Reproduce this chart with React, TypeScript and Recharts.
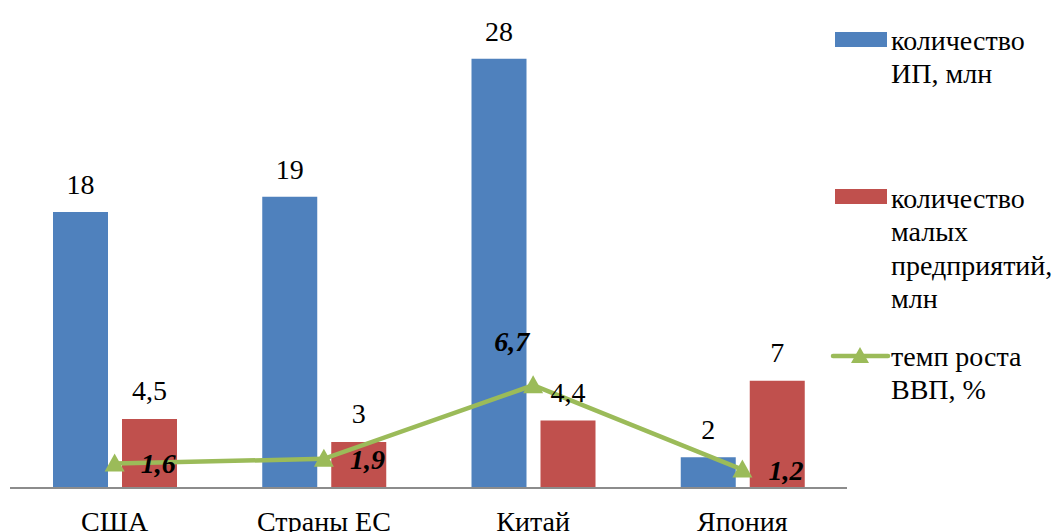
import React from 'react';
import { ComposedChart, Bar, Line, XAxis, YAxis, Legend, LabelList } from 'recharts';

const countries = ['США', 'Страны ЕС', 'Китай', 'Япония'];
const entrepreneurs = [18, 19, 28, 2];
const smallBusinesses = [4.5, 3, 4.4, 7];
const gdpGrowth = [1.6, 1.9, 6.7, 1.2];

const seriesNames = ['количество ИП, млн', 'количество малых предприятий, млн', 'темп роста ВВП, %'];
const legendLines = [
  ['количество', 'ИП, млн'],
  ['количество', 'малых', 'предприятий,', 'млн'],
  ['темп роста', 'ВВП, %'],
];

const BLUE = '#4F81BD';
const RED = '#C0504D';
const GREEN = '#9BBB59';
const FONT = 'Liberation Serif, serif';
const textStyle = { fontFamily: FONT, fontSize: 28 };

const data = countries.map((country, i) => ({
  country,
  ip: entrepreneurs[i],
  small: smallBusinesses[i],
  gdp: gdpGrowth[i],
}));

const fmt = (v: any) => String(v).replace('.', ',');

// triangle marker for the GDP line
const Triangle = (props: any) => {
  const { cx, cy } = props;
  if (cx == null || cy == null) return null;
  return <path d={`M${cx},${cy - 10} L${cx + 10},${cy + 8} L${cx - 10},${cy + 8} Z`} fill={GREEN} />;
};

// bold italic labels next to the line points, the peak one sits above-left
const GdpLabel = (props: any) => {
  const { x, y, value, index } = props;
  const above = index === 2;
  return (
    <text
      x={above ? x - 4 : x + 26}
      y={above ? y - 34 : y + 10}
      textAnchor={above ? 'end' : 'start'}
      style={{ ...textStyle, fontWeight: 'bold', fontStyle: 'italic' }}
      fill="#000"
    >
      {fmt(value)}
    </text>
  );
};

const LegendBox = ({ payload }: any) => {
  // coordinates are relative to the plot's right edge (x = 847)
  const tops = [32, 189, 349];
  const baselines = [
    [50, 83],
    [208, 241, 275, 308],
    [366, 399],
  ];
  return (
    <svg width={216} height={420} style={{ overflow: 'visible', display: 'block' }}>
      {(payload || []).map((entry: any, i: number) => (
        <g key={i}>
          {i < 2 ? (
            <rect x={-12} y={tops[i]} width={52} height={15} fill={entry.color} />
          ) : (
            <g>
              <line x1={-14} y1={356} x2={41} y2={356} stroke={GREEN} strokeWidth={4.5} strokeLinecap="round" />
              <path d="M13,347 L22,363 L4,363 Z" fill={GREEN} />
            </g>
          )}
          {legendLines[i].map((line, j) => (
            <text key={j} x={44} y={baselines[i][j]} style={textStyle} fill="#000">
              {line}
            </text>
          ))}
        </g>
      ))}
    </svg>
  );
};

export default function App() {
  return (
    <div style={{ width: 1063, height: 532, background: '#fff', fontFamily: FONT }}>
      <style>{'body{margin:0}'}</style>
      <ComposedChart
        width={1063}
        height={532}
        data={data}
        margin={{ top: 28, right: 0, left: 10, bottom: 0 }}
        barSize={55}
        barGap={14}
      >
        <XAxis
          dataKey="country"
          height={44}
          tickLine={false}
          tickSize={6}
          tickMargin={17}
          axisLine={{ stroke: '#8C8C8C', strokeWidth: 2 }}
          tick={{ style: textStyle, fill: '#000' }}
          interval={0}
        />
        <YAxis hide domain={[0, 30]} />
        <Legend
          layout="vertical"
          align="right"
          verticalAlign="top"
          content={<LegendBox />}
          wrapperStyle={{ left: 847, top: 0, width: 216, height: 420 }}
        />
        <Bar dataKey="ip" name={seriesNames[0]} fill={BLUE} isAnimationActive={false}>
          <LabelList dataKey="ip" position="top" offset={18} formatter={fmt} style={textStyle} fill="#000" />
        </Bar>
        <Bar dataKey="small" name={seriesNames[1]} fill={RED} isAnimationActive={false}>
          <LabelList dataKey="small" position="top" offset={19} formatter={fmt} style={textStyle} fill="#000" />
        </Bar>
        <Line
          dataKey="gdp"
          name={seriesNames[2]}
          stroke={GREEN}
          strokeWidth={4.5}
          dot={<Triangle />}
          activeDot={false}
          isAnimationActive={false}
        >
          <LabelList dataKey="gdp" content={<GdpLabel />} />
        </Line>
      </ComposedChart>
    </div>
  );
}
